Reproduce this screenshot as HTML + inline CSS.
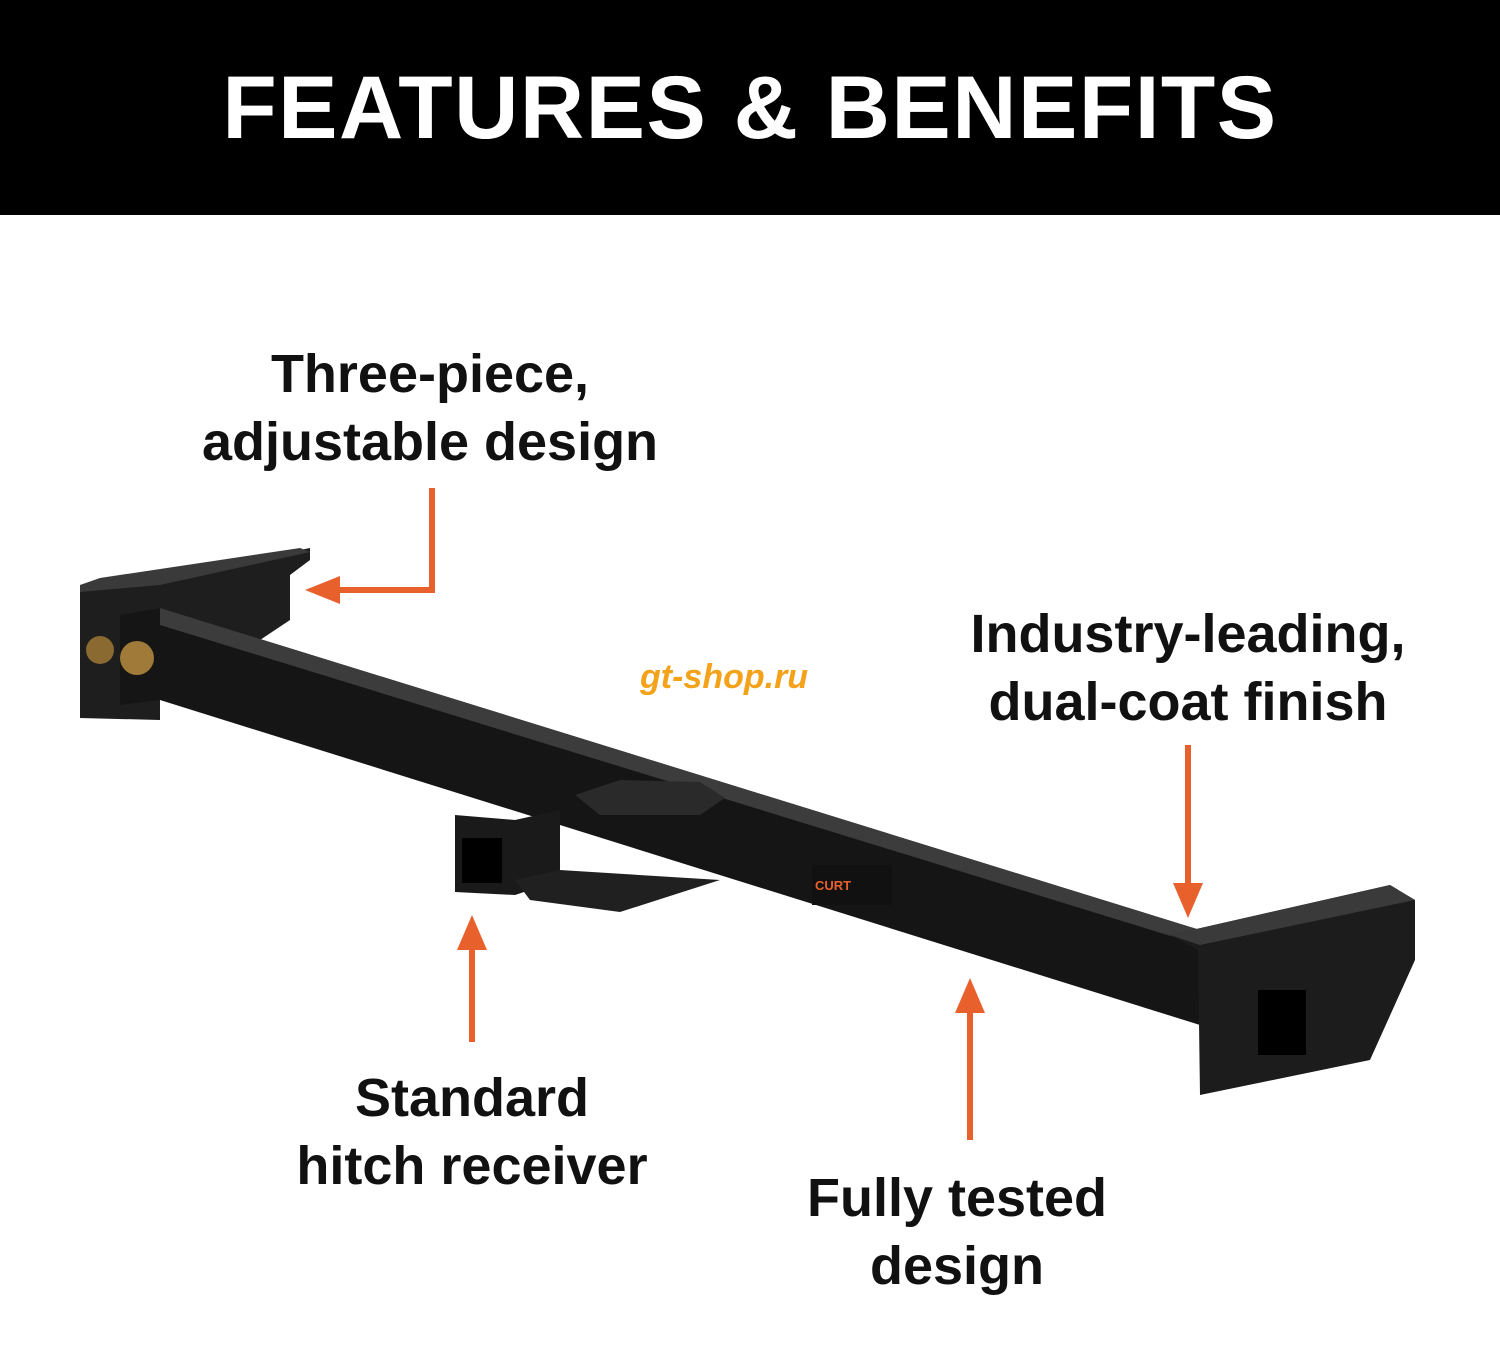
<!DOCTYPE html>
<html><head><meta charset="utf-8"><style>
html,body{margin:0;padding:0;background:#fff;}
body{width:1500px;height:1350px;position:relative;overflow:hidden;font-family:"Liberation Sans",sans-serif;}
.hdr{position:absolute;left:0;top:0;width:1500px;height:215px;background:#000;color:#fff;font-weight:bold;font-size:89px;text-align:center;line-height:215px;letter-spacing:1.5px;}
.t{position:absolute;font-weight:bold;font-size:54px;color:#111;text-align:center;line-height:68px;width:600px;}
</style></head><body>
<div class="hdr">FEATURES &amp; BENEFITS</div>
<svg width="1500" height="1350" style="position:absolute;left:0;top:0">
<polygon points="80,585 160,578 310,548 310,560 290,575 290,620 260,640 160,640 160,720 80,718" fill="#1e1e1e"/>
<polygon points="80,585 100,578 300,548 310,552 160,585 80,592" fill="#3a3a3a"/>
<polygon points="120,615 160,608 1200,930 1200,1025 160,700 120,705" fill="#151515"/>
<polygon points="160,608 1200,930 1200,945 160,625" fill="#3c3c3c"/>
<circle cx="100" cy="650" r="14" fill="#8a6a30"/>
<circle cx="137" cy="658" r="17" fill="#a07a38"/>
<polygon points="575,795 620,780 700,782 725,798 700,815 600,815" fill="#2a2a2a"/>
<polygon points="455,815 515,820 560,810 560,880 515,895 455,892" fill="#1a1a1a"/>
<rect x="462" y="838" width="40" height="45" fill="#000"/>
<polygon points="515,880 560,870 720,880 620,912 530,900" fill="#202020"/>
<rect x="812" y="865" width="80" height="40" fill="#111"/>
<text x="815" y="890" font-size="13" fill="#e8602c" font-weight="bold" font-family="Liberation Sans, sans-serif">CURT</text>
<polygon points="1170,935 1390,885 1415,900 1415,960 1370,1060 1200,1095 1198,950" fill="#1c1c1c"/>
<polygon points="1170,935 1390,885 1415,900 1200,945" fill="#3a3a3a"/>
<rect x="1258" y="990" width="48" height="65" fill="#000"/>
<text x="640" y="688" font-size="34" font-weight="bold" font-style="italic" fill="#f4a21a" font-family="Liberation Sans, sans-serif">gt-shop.ru</text>
<g stroke="#e8602c" stroke-width="6" fill="none">
<polyline points="432,488 432,590 330,590"/>
<line x1="472" y1="1042" x2="472" y2="945"/>
<line x1="970" y1="1140" x2="970" y2="1005"/>
<line x1="1188" y1="745" x2="1188" y2="890"/>
</g>
<g fill="#e8602c">
<polygon points="305,590 340,576 340,604"/>
<polygon points="472,915 457,950 487,950"/>
<polygon points="970,978 955,1013 985,1013"/>
<polygon points="1188,918 1173,883 1203,883"/>
</g>
</svg>
<div class="t" style="left:130px;top:340px">Three-piece,<br>adjustable design</div>
<div class="t" style="left:888px;top:600px">Industry-leading,<br>dual-coat finish</div>
<div class="t" style="left:172px;top:1064px">Standard<br>hitch receiver</div>
<div class="t" style="left:657px;top:1164px">Fully tested<br>design</div>
</body></html>
